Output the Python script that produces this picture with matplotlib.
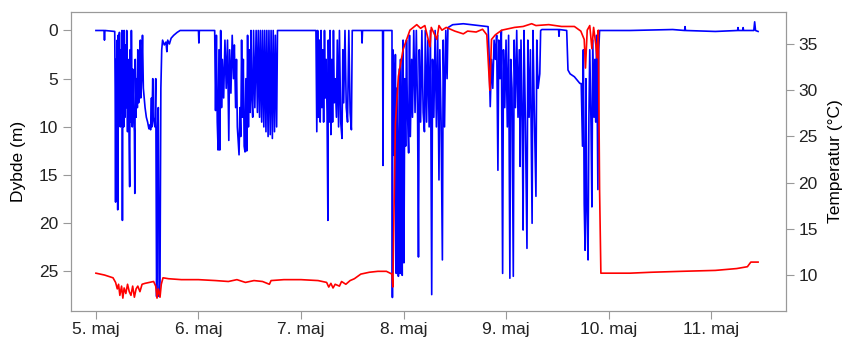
import matplotlib
matplotlib.use('Agg')
import matplotlib.pyplot as plt
import numpy as np

plt.rcParams['font.family'] = ['Liberation Sans', 'DejaVu Sans']

# tid i timer fra 5. maj kl 00, dybde i m
dybde_t = [0, 1.9, 2.0, 2.1, 4.4,
           4.5, 4.6, 4.7, 4.9, 5.0, 5.1, 5.2, 5.4, 5.5, 5.7, 5.8, 6.0, 6.1, 6.2, 6.3, 6.5, 6.6, 6.8, 6.9,
           7.1, 7.2, 7.4, 7.5, 7.7, 7.9, 8.0, 8.2, 8.3, 8.5, 8.6, 8.8, 9.0, 9.1, 9.2, 9.4, 9.5, 9.7, 9.8,
           10.0, 10.2, 10.4, 10.5, 10.7, 10.9, 11.1, 11.3, 11.5, 11.8, 12.1, 12.4, 12.6, 12.8, 13.0, 13.1,
           13.3, 13.4, 13.8, 14.0, 14.2, 14.3, 14.4, 14.6, 14.8, 15.0, 15.2, 15.4, 15.6, 16.0, 16.4, 16.6,
           16.8, 17.2, 17.6, 18.2, 19.0, 19.7, 24.0, 24.1, 24.2, 27.8,
           28.0, 28.2, 28.4, 28.6, 28.8, 29.0, 29.2, 29.4, 29.6, 29.9, 30.2, 30.5, 30.8, 31.1, 31.3, 31.6,
           31.9, 32.2, 32.4, 32.7, 32.9, 33.1, 33.3, 33.5, 33.7, 33.9, 34.1, 34.3, 34.5, 34.7, 34.9, 35.1,
           35.3, 35.5, 35.7, 35.9, 36.1, 36.3, 36.5, 36.7, 36.9, 37.2, 37.5, 37.8, 38.0, 38.3, 38.5, 38.8,
           39.0, 39.3, 39.5, 39.8, 40.0, 40.3, 40.5, 40.8, 41.0, 41.3, 41.5, 41.8, 42.0, 42.3, 42.5, 51.5,
           51.6, 51.7, 51.9, 52.1, 52.3, 52.5, 52.7, 52.9, 53.1, 53.3, 53.5, 53.7, 53.9, 54.1, 54.3, 54.4,
           54.6, 54.8, 55.0, 55.2, 55.4, 55.6, 55.8, 56.0, 56.3, 56.5, 56.8, 57.0, 57.3, 57.6, 57.8, 58.0,
           58.3, 58.6, 58.9, 59.2, 59.5, 59.8, 60.0, 62.2, 62.3, 62.4, 67.1, 67.2, 67.3, 69.3,
           69.4, 69.5, 69.7, 69.9, 70.1, 70.3, 70.4, 70.6, 70.8, 71.0, 71.2, 71.3, 71.5, 71.7, 71.9, 72.1,
           72.3, 72.5, 72.7, 72.9, 73.2, 73.4, 73.6, 73.9, 74.1, 74.4, 74.7, 75.0, 75.3, 75.5, 75.7, 76.0,
           76.3, 76.6, 76.9, 77.1, 77.4, 77.7, 78.0, 78.3, 78.6, 78.8, 79.1, 79.4, 79.7, 80.0, 80.3, 80.5,
           80.8, 81.1, 81.3, 81.6, 81.9, 82.2, 82.4, 83.5, 86.0, 88.0, 90.0, 91.8,
           92.0, 92.3, 92.6, 92.9, 93.2, 93.5, 93.8, 94.1, 94.3, 94.6, 94.9, 95.2, 95.4, 95.7, 96.0, 96.3,
           96.6, 96.9, 97.1, 97.4, 97.7, 97.9, 98.2, 98.5, 98.8, 99.1, 99.3, 99.5, 99.8, 100.0, 100.2,
           100.5, 100.9, 101.1, 101.4, 101.7, 102.1, 102.3, 102.6, 103.0, 103.2, 103.5, 103.9, 104.1,
           104.4, 108.3, 108.4, 108.5, 110.2, 110.5, 111.0, 112.0, 113.3,
           113.6, 113.9, 114.1, 114.3, 114.5, 114.7, 114.9, 115.2, 115.4, 115.6, 115.9, 116.1, 116.3,
           116.6, 116.8, 117.0, 117.2, 117.5, 117.7, 117.9,
           125.0, 135.0, 137.8, 137.9, 138.0, 145.0, 150.2, 150.3, 150.4, 151.4, 151.5, 151.6,
           154.0, 154.2, 154.4, 155.0]
dybde = [0.0, 0.0, 1.0, 0.0, 0.1,
         6.0, 17.8, 3.0, 12.0, 1.0, 18.6, 0.5, 9.5, 0.2, 10.0, 2.0, 8.5, 0.0, 19.7, 3.0, 10.0, 0.0, 9.0, 1.5,
         8.0, 0.0, 10.5, 3.0, 9.0, 16.2, 2.0, 9.5, 0.0, 10.0, 4.0, 8.5, 10.5, 16.9, 3.0, 9.0, 5.0, 8.0, 2.0,
         7.5, 3.5, 1.0, 7.0, 5.0, 0.5, 6.0, 7.0, 8.0, 9.0, 9.5, 10.2, 9.8, 10.3, 7.0, 10.0,
         5.0, 9.0, 10.0, 5.0, 27.6, 24.0, 10.5, 8.0, 27.6, 26.0, 6.0, 2.0, 1.0, 1.5, 1.2, 2.2,
         1.0, 1.4, 0.8, 0.5, 0.2, 0.0, 0.0, 1.3, 0.0, 0.0,
         8.3, 0.5, 9.5, 12.4, 2.0, 12.4, 0.0, 8.0, 3.0, 7.0, 1.0, 6.0, 1.0, 11.4, 2.0, 6.5,
         0.5, 5.0, 1.5, 8.0, 3.0, 10.0, 11.5, 12.9, 8.0, 11.0, 1.0, 9.0, 3.0, 12.0, 12.6, 5.0,
         12.5, 0.5, 10.0, 2.0, 8.5, 0.0, 7.0, 9.0, 0.0, 8.0, 0.0, 8.5, 0.0, 9.0, 0.0, 9.5,
         0.0, 10.0, 0.0, 10.5, 0.0, 11.0, 0.0, 10.8, 0.0, 11.2, 0.0, 10.5, 0.5, 10.0, 0.0, 0.0,
         5.0, 10.5, 0.0, 9.0, 1.0, 9.5, 0.0, 8.0, 2.0, 9.5, 0.0, 7.0, 3.0, 8.5, 19.7, 1.0,
         9.5, 0.0, 10.8, 3.0, 9.5, 0.0, 7.5, 5.0, 9.0, 1.0, 10.0, 0.0, 9.5, 11.2, 2.0, 7.5,
         0.0, 8.0, 9.5, 0.0, 8.5, 10.3, 0.0, 0.0, 1.3, 0.0, 0.0, 14.0, 0.0, 0.0,
         27.7, 2.0, 5.0, 13.0, 2.5, 25.2, 6.0, 12.0, 25.5, 4.0, 25.2, 3.0, 10.0, 25.4, 1.0, 24.1,
         5.0, 12.0, 1.0, 8.0, 12.7, 0.5, 11.0, 3.0, 9.0, 0.0, 8.5, 0.0, 9.0, 23.5, 2.0, 9.5,
         0.0, 8.5, 10.5, 0.0, 9.5, 1.0, 10.0, 0.0, 27.4, 3.0, 9.0, 0.0, 10.0, 0.5, 15.5, 2.0,
         9.5, 23.8, 1.0, 10.0, 0.0, 5.0, -0.3, -0.6, -0.7, -0.6, -0.5, -0.4,
         2.0, 7.9, 3.0, 6.0, 1.0, 3.0, 0.5, 14.5, 1.0, 5.0, 0.0, 25.2, 2.0, 8.0, 1.0, 10.0,
         0.5, 25.7, 3.0, 6.0, 25.5, 1.0, 8.0, 0.0, 9.0, 2.0, 14.1, 1.0, 9.5, 20.7, 0.0,
         8.5, 22.6, 1.0, 9.0, 2.0, 20.0, 0.0, 8.0, 17.2, 1.0, 6.0, 4.5, 0.0,
         -0.1, -0.1, 0.6, -0.1, 0.0, 4.1, 4.5, 4.8, 5.5,
         5.5, 12.0, 2.0, 18.0, 22.8, 5.0, 18.0, 23.8, 9.0, 2.0, 10.0, 18.3, 1.0,
         9.0, 3.0, 9.5, 0.5, 16.5, 2.0, 0.0,
         0.0, -0.1, 0.0, -0.4, 0.0, 0.1, 0.0, -0.3, 0.0, 0.0, -0.3, 0.0,
         0.0, -0.9, 0.0, 0.1]

# temperatur (grader C)
temp_t = [0, 2.0, 4.0, 4.6, 5.0, 5.3, 5.6, 6.0, 6.3, 6.6, 7.0, 7.4, 7.8, 8.2, 8.6, 9.0, 9.4, 9.8,
          10.3, 10.8, 11.5, 12.5, 13.5, 14.0, 14.3, 14.6, 15.0, 15.3, 15.7, 17, 20, 24, 28, 31, 33,
          35, 37, 39, 40.6, 41, 44, 48, 52, 54, 54.5, 55, 55.5, 56, 57, 57.5, 58.5, 59.5, 60.5, 62,
          64, 66, 68, 69.3, 69.5, 70.1, 70.8, 71.9, 73.5, 75.1, 76.0, 77.0, 78.2, 78.5, 79.8, 80.3,
          81.0, 82.0, 84, 86, 87, 89, 90.5, 91.5, 92.2, 92.6, 93.5, 95, 98, 100, 102, 103, 106, 109,
          112, 113.5, 114.3, 114.6, 115.0, 115.6, 116.1, 116.5, 117.0, 117.3, 117.6, 117.9, 118.2,
          125, 130, 137, 145, 150, 152.5, 153.3, 155]
temp = [10.2, 10.0, 9.7, 9.2, 8.5, 9.0, 7.8, 8.8, 7.5, 8.6, 8.0, 9.0, 8.2, 7.8, 8.8, 7.6, 8.5, 8.8,
        8.2, 9.0, 9.1, 9.2, 9.3, 8.8, 7.5, 8.5, 7.6, 9.0, 9.7, 9.6, 9.5, 9.5, 9.4, 9.3, 9.5,
        9.2, 9.4, 9.3, 9.0, 9.4, 9.5, 9.5, 9.4, 9.2, 8.7, 9.1, 8.6, 9.0, 8.8, 9.3, 9.0, 9.4, 9.6, 10.1,
        10.3, 10.4, 10.4, 10.1, 8.7, 26.4, 31.5, 34.4, 36.5, 37.1, 36.7, 37.0, 34.7, 36.8, 35.5, 37.0,
        36.5, 36.8, 36.4, 36.1, 36.4, 36.3, 36.6, 36.0, 30.0, 35.5, 36.0, 36.5, 36.8, 36.9, 37.2, 37.0, 37.1, 36.9,
        36.9, 36.4, 35.5, 32.4, 36.5, 37.0, 34.5, 36.8, 35.0, 33.5, 36.5, 19.2, 10.2,
        10.2, 10.3, 10.4, 10.5, 10.7, 10.9, 11.4, 11.4]

dag_ticks = [0, 24, 48, 72, 96, 120, 144]
dag_labels = ['5. maj', '6. maj', '7. maj', '8. maj', '9. maj', '10. maj', '11. maj']

fs = 12.5

fig = plt.figure(figsize=(8.45, 3.4), dpi=100)
ax = fig.add_axes([0.0837, 0.0862, 0.8463, 0.8794])
ax.plot(dybde_t, dybde, color='#0000FF', lw=1.2)
ax.set_xlim(-5.9, 161.5)
ax.set_ylim(29.07, -1.95)
ax.set_yticks([0, 5, 10, 15, 20, 25])
ax.set_xticks(dag_ticks)
ax.set_xticklabels(dag_labels)
ax.set_ylabel('Dybde (m)', fontsize=fs, labelpad=9)

ax2 = ax.twinx()
ax2.plot(temp_t, temp, color='#FF0000', lw=1.2)
ax2.set_ylim(6.14, 38.5)
ax2.set_yticks([10, 15, 20, 25, 30, 35])
ax2.set_ylabel('Temperatur (°C)', fontsize=fs, labelpad=7)

for a in (ax, ax2):
    for s in a.spines.values():
        s.set_color('#999999')
    a.tick_params(colors='#999999', labelcolor='#222222', labelsize=fs, length=6, width=0.8, pad=3)
ax.tick_params(axis='x', length=6, pad=2)

fig.savefig('out.png', dpi=100)
